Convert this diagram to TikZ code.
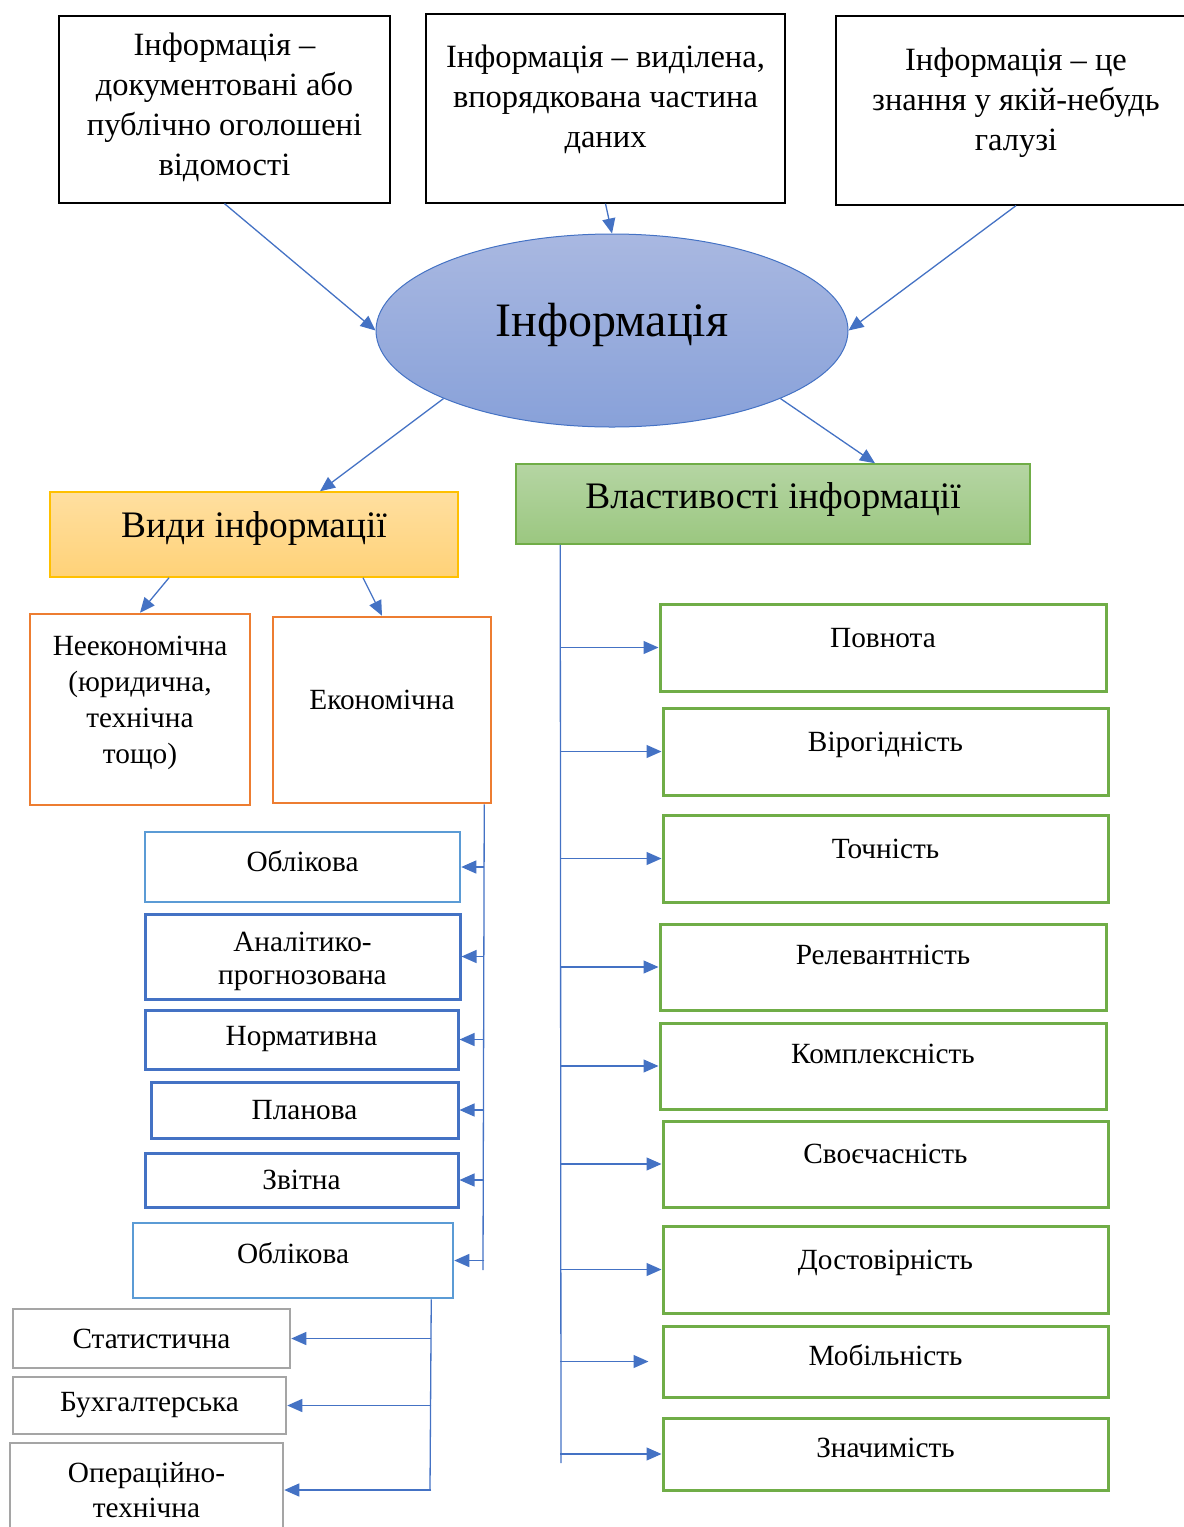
\documentclass[tikz,border=0pt]{standalone}
\usepackage{fontspec}
\setmainfont{Liberation Serif}
\usetikzlibrary{arrows.meta}
\usetikzlibrary{shapes.geometric}

\definecolor{arrblue}{HTML}{4472C4}
\definecolor{lightblue}{HTML}{5B9BD5}
\definecolor{kindorange}{HTML}{ED7D31}
\definecolor{kindgold}{HTML}{FFC000}
\definecolor{propgreen}{HTML}{70AD47}
\definecolor{boxgray}{HTML}{A5A5A5}
\definecolor{infotop}{HTML}{A9B8E1}
\definecolor{infobot}{HTML}{88A1D9}
\definecolor{kindtop}{HTML}{FFDFA0}
\definecolor{kindbot}{HTML}{FFD278}
\definecolor{proptop}{HTML}{B5D5A3}
\definecolor{propbot}{HTML}{9BC780}

\newcommand{\pad}[1]{\rule[-#1pt]{0pt}{#1pt}}
\newcommand{\lift}[1]{\rule{0pt}{#1pt}}

\tikzset{
    topbox/.style={draw=black, line width=1.3pt, align=center, inner sep=0pt, font=\fontsize{32.5}{40}\selectfont},
    kindbox/.style={draw=kindorange, line width=2.5pt, align=center, inner sep=0pt, font=\fontsize{29.3}{36}\selectfont},
    subbox/.style={draw=arrblue, line width=3pt, align=center, inner sep=0pt, font=\fontsize{29.3}{33}\selectfont},
    lightbox/.style={draw=lightblue, line width=2.5pt, align=center, inner sep=0pt, font=\fontsize{29.3}{33}\selectfont},
    graybox/.style={draw=boxgray, line width=2.5pt, align=center, inner sep=0pt, font=\fontsize{29.3}{35}\selectfont},
    propbox/.style={draw=propgreen, line width=3pt, inner sep=0pt, font=\fontsize{29.3}{34}\selectfont},
    arr/.style={draw=arrblue, line width=1.3pt, -{Triangle[length=15pt,width=13pt]}},
    spine/.style={draw=arrblue, line width=1.3pt}
}

\begin{document}
\begin{tikzpicture}[x=1pt, y=-1pt]
    \useasboundingbox (0,0) rectangle (1184,1527);

    \node(def1) [topbox, minimum width=331, minimum height=187] at (224.5,109.5) {Інформація –\\документовані або\\публічно оголошені\\відомості\pad{10}};
    \node(def2) [topbox, minimum width=359, minimum height=189] at (605.5,108.5) {Інформація – виділена,\\впорядкована частина\\даних\pad{24}};
    \node(def3) [topbox, minimum width=360, minimum height=189] at (1016,110.5) {Інформація – це\\знання у якій-небудь\\галузі\pad{22}};

    \node(info) [ellipse, draw=arrblue, line width=1pt, top color=infotop, bottom color=infobot, minimum width=472, minimum height=193, inner sep=0pt, font=\fontsize{48}{56}\selectfont] at (612,330.5) {Інформація\pad{22}};

    \node(kinds) [draw=kindgold, line width=1.5pt, top color=kindtop, bottom color=kindbot, minimum width=408, minimum height=85, inner sep=0pt, font=\fontsize{37.4}{44}\selectfont] at (254,534.5) {Види інформації\pad{20}};
    \node(props) [draw=propgreen, line width=1.5pt, top color=proptop, bottom color=propbot, minimum width=514, minimum height=80, inner sep=0pt, font=\fontsize{37.4}{44}\selectfont] at (773,504) {Властивості інформації\pad{16}};

    \node(neek) [kindbox, minimum width=220, minimum height=191] at (140,709.5) {Неекономічна\\(юридична,\\технічна\\тощо)\pad{20}};
    \node(econ) [kindbox, minimum width=218, minimum height=186] at (382,710) {Економічна\pad{20}};

    \node(obl1) [lightbox, minimum width=315, minimum height=70] at (302.5,867) {Облікова\pad{12}};
    \node(anal) [subbox, minimum width=315, minimum height=85] at (302.5,956.5) {\lift{30}Аналітико-\\прогнозована};
    \node(norm) [subbox, minimum width=313, minimum height=59] at (301.5,1039.5) {Нормативна};
    \node(plan) [subbox, minimum width=307, minimum height=56] at (304.5,1110) {Планова};
    \node(zvit) [subbox, minimum width=313, minimum height=54] at (301.5,1180) {Звітна};
    \node(obl2) [lightbox, minimum width=320, minimum height=75] at (293,1260.5) {Облікова\pad{16}};

    \node(stat) [graybox, minimum width=277, minimum height=59] at (151.5,1338.5) {Статистична};
    \node(buh) [graybox, minimum width=273, minimum height=57] at (149.5,1405.5) {Бухгалтерська};
    \node(oper) [graybox, minimum width=273, minimum height=94] at (146.5,1490) {Операційно-\\технічна};

    \node(p1) [propbox, minimum width=446, minimum height=87] at (883,647.5) {Повнота\pad{20}};
    \node(p2) [propbox, minimum width=445, minimum height=87] at (885.5,751.5) {Вірогідність\pad{20}};
    \node(p3) [propbox, minimum width=445, minimum height=87] at (885.5,858.5) {Точність\pad{20}};
    \node(p4) [propbox, minimum width=446, minimum height=86] at (883,967) {Релевантність\pad{24}};
    \node(p5) [propbox, minimum width=446, minimum height=86] at (883,1066) {Комплексність\pad{24}};
    \node(p6) [propbox, minimum width=445, minimum height=86] at (885.5,1164) {Своєчасність\pad{20}};
    \node(p7) [propbox, minimum width=445, minimum height=87] at (885.5,1269.5) {Достовірність\pad{20}};
    \node(p8) [propbox, minimum width=445, minimum height=71] at (885.5,1361.5) {Мобільність\pad{13}};
    \node(p9) [propbox, minimum width=445, minimum height=72] at (885.5,1454) {Значимість\pad{12}};

    \coordinate(s1a) at ([xshift=-8pt]econ.south east);
    \coordinate(s1b) at (483,1270);
    \coordinate(s2a) at ([xshift=-23pt]obl2.south east);
    \coordinate(s2b) at (430,1490);
    \coordinate(s3a) at ([xshift=45pt]props.south west);
    \coordinate(s3b) at (561,1463);

    \draw[arr] (def1.south) -- (info.west);
    \draw[arr] (def2.south) -- (info.north);
    \draw[arr] (def3.south) -- (info.east);

    \draw[arr] (info.202) -- ([xshift=66pt]kinds.north);
    \draw[arr] (info.338) -- ([xshift=102pt]props.north);

    \draw[arr] ([xshift=-85pt]kinds.south) -- (neek.north);
    \draw[arr] ([xshift=109pt]kinds.south) -- (econ.north);

    \draw[spine] (s1a) -- (s1b);
    \draw[arr] (s1a |- obl1.east) -- (obl1.east);
    \draw[arr] (s1a |- anal.east) -- (anal.east);
    \draw[arr] (s1a |- norm.east) -- (norm.east);
    \draw[arr] (s1a |- plan.east) -- (plan.east);
    \draw[arr] (s1a |- zvit.east) -- (zvit.east);
    \draw[arr] (s1a |- obl2.east) -- (obl2.east);

    \draw[spine] (s2a) -- (s2b);
    \draw[arr] (s2a |- stat.east) -- (stat.east);
    \draw[arr] (s2a |- buh.east) -- (buh.east);
    \draw[arr] (s2a |- oper.east) -- (oper.east);

    \draw[spine] (s3a) -- (s3b);
    \draw[arr] (s3a |- p1.west) -- (p1.west);
    \draw[arr] (s3a |- p2.west) -- (p2.west);
    \draw[arr] (s3a |- p3.west) -- (p3.west);
    \draw[arr] (s3a |- p4.west) -- (p4.west);
    \draw[arr] (s3a |- p5.west) -- (p5.west);
    \draw[arr] (s3a |- p6.west) -- (p6.west);
    \draw[arr] (s3a |- p7.west) -- (p7.west);
    \draw[arr, shorten >=13pt] (s3a |- p8.west) -- (p8.west);
    \draw[arr] (s3a |- p9.west) -- (p9.west);
\end{tikzpicture}
\end{document}
